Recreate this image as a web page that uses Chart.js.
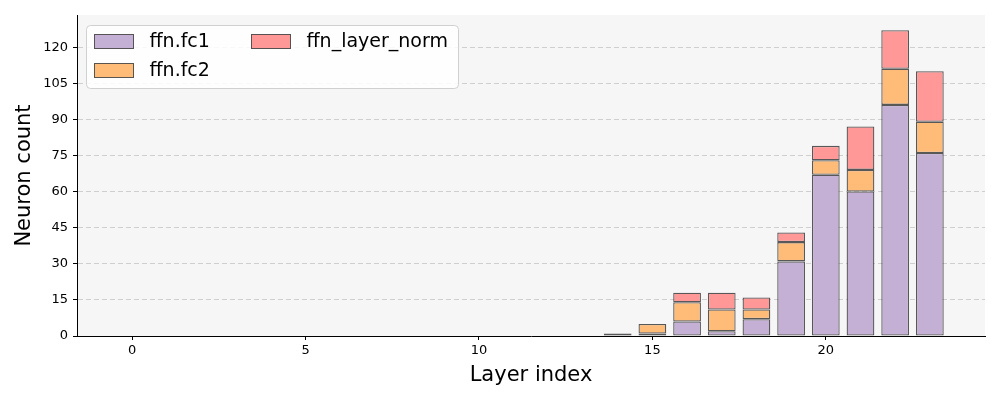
<!DOCTYPE html>
<html>
<head>
<meta charset="utf-8">
<script src="https://cdn.jsdelivr.net/npm/chart.js@4/dist/chart.umd.min.js"></script>
<style>
html,body{margin:0;padding:0;background:#fff;}
#wrap{width:1000px;height:400px;}
</style>
</head>
<body>
<div id="wrap"><canvas id="c" width="1000" height="400"></canvas></div>
<script>
const layers = [0,1,2,3,4,5,6,7,8,9,10,11,12,13,14,15,16,17,18,19,20,21,22,23];
const fc1 =       [0,0,0,0,0,0,0,0,0,0,0,0,0,0,0,1,6,2,7,31,67,60,96,76];
const fc2 =       [0,0,0,0,0,0,0,0,0,0,0,0,0,0,0,4,8,9,4,8,6,9,15,13];
const layerNorm = [0,0,0,0,0,0,0,0,0,0,0,0,0,0,1,0,4,7,5,4,6,18,16,21];
const seriesNames = ['ffn.fc1','ffn.fc2','ffn_layer_norm'];
const seriesColors = ['rgba(197,176,213,1)','rgba(255,187,120,1)','rgba(255,152,150,1)'];
const yTicks = [0,15,30,45,60,75,90,105,120];
const xTicks = [0,5,10,15,20];

const edge = 'rgba(60,60,60,0.85)';
const FONT = "'DejaVu Sans', sans-serif";

function mk(name, vals, color){
  return {
    label: name,
    data: layers.map((l,i)=>({x:l, y:vals[i]})),
    backgroundColor: color,
    borderColor: edge,
    borderWidth: ctx => (ctx.raw && ctx.raw.y) ? 1.3 : 0,
    borderSkipped: false,
    barPercentage: 0.8,
    categoryPercentage: 1.0,
    stack: 's'
  };
}

const bgPlugin = {
  id:'bg',
  beforeDraw(chart){
    const {ctx, chartArea:a} = chart;
    ctx.save();
    ctx.fillStyle = '#f6f6f6';
    ctx.fillRect(a.left, a.top, a.right-a.left, a.bottom-a.top);
    ctx.restore();
  }
};

const legendPlugin = {
  id:'mlegend',
  afterDraw(chart){
    const ctx = chart.ctx;
    const a = chart.chartArea;
    ctx.save();
    const x0 = a.left + 9.5, y0 = a.top + 10.5, w = 372, h = 63, r = 4;
    ctx.beginPath();
    ctx.moveTo(x0+r, y0);
    ctx.arcTo(x0+w, y0, x0+w, y0+h, r);
    ctx.arcTo(x0+w, y0+h, x0, y0+h, r);
    ctx.arcTo(x0, y0+h, x0, y0, r);
    ctx.arcTo(x0, y0, x0+w, y0, r);
    ctx.closePath();
    ctx.fillStyle = 'rgba(255,255,255,0.85)';
    ctx.fill();
    ctx.strokeStyle = '#d0d0d0';
    ctx.lineWidth = 1;
    ctx.stroke();
    const pos = [[x0+8, y0+9],[x0+8, y0+38],[x0+165, y0+9]];
    ctx.font = "19px " + FONT;
    ctx.textBaseline = 'middle';
    chart.data.datasets.forEach((ds,i)=>{
      const [px,py] = pos[i];
      ctx.fillStyle = ds.backgroundColor;
      ctx.fillRect(px, py, 39, 14);
      ctx.strokeStyle = edge;
      ctx.lineWidth = 1;
      ctx.strokeRect(px, py, 39, 14);
      ctx.fillStyle = '#000';
      ctx.fillText(ds.label, px+55, py+8);
    });
    ctx.restore();
  }
};

new Chart(document.getElementById('c'), {
  type:'bar',
  data:{
    datasets:[
      mk(seriesNames[0], fc1, seriesColors[0]),
      mk(seriesNames[1], fc2, seriesColors[1]),
      mk(seriesNames[2], layerNorm, seriesColors[2])
    ]
  },
  options:{
    responsive:false,
    animation:false,
    layout:{padding:{top:15,right:15,left:0,bottom:0}},
    plugins:{legend:{display:false}, tooltip:{enabled:false}},
    scales:{
      x:{
        type:'linear',
        stacked:true,
        min:-1.59, max:24.59,
        offset:false,
        afterBuildTicks(s){ s.ticks = xTicks.map(v=>({value:v})); },
        afterFit(s){ s.height = 64; },
        grid:{offset:false, drawOnChartArea:false, color:'#000', tickColor:'#000', tickLength:4},
        border:{display:true, color:'#000', width:1},
        ticks:{color:'#000', font:{family:FONT, size:13}, padding:3, maxRotation:0},
        title:{display:true, text:'Layer index', color:'#000', font:{family:FONT, size:21}, padding:{top:2,bottom:12}}
      },
      y:{
        stacked:true,
        min:0, max:133.35,
        afterBuildTicks(s){ s.ticks = yTicks.map(v=>({value:v})); },
        afterFit(s){ s.width = 77; },
        grid:{drawOnChartArea:true, color:'rgba(200,200,200,0.85)', tickColor:'#000', tickBorderDash:[], tickLength:4},
        border:{display:true, color:'#000', width:1, dash:[5,3]},
        ticks:{color:'#000', font:{family:FONT, size:13}, padding:5},
        title:{display:true, text:'Neuron count', color:'#000', font:{family:FONT, size:21}, padding:{top:12,bottom:4}}
      }
    }
  },
  plugins:[bgPlugin, legendPlugin]
});
</script>
</body>
</html>
